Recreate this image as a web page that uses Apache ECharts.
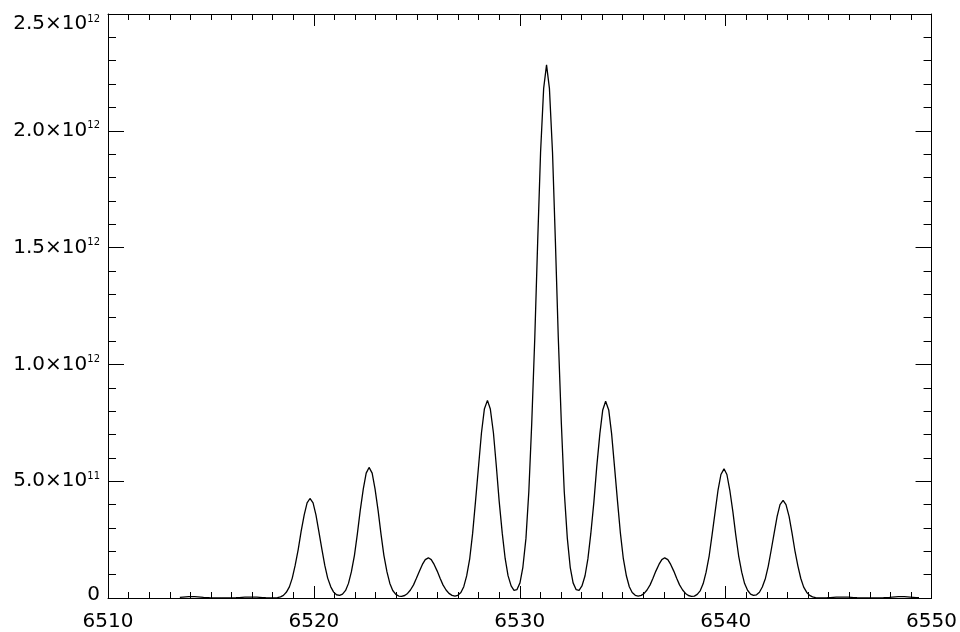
<!DOCTYPE html>
<html>
<head>
<meta charset="utf-8">
<script src="https://cdn.jsdelivr.net/npm/echarts@6/dist/echarts.min.js"></script>
<style>
  html, body { margin: 0; padding: 0; background: #fff; }
  #chart { width: 960px; height: 632px; }
</style>
</head>
<body>
<div id="chart"></div>
<script>
// Wavelength samples (x)
const wavelength = [
  6513.49, 6513.64, 6513.78, 6513.92,
  6514.07, 6514.21, 6514.36, 6514.50, 6514.64, 6514.79, 6514.93, 6515.07, 6515.22, 6515.36,
  6515.50, 6515.65, 6515.79, 6515.94, 6516.08, 6516.22, 6516.37, 6516.51, 6516.65, 6516.80,
  6516.94, 6517.08, 6517.23, 6517.37, 6517.51, 6517.66, 6517.80, 6517.95, 6518.09, 6518.23,
  6518.38, 6518.52, 6518.66, 6518.81, 6518.95, 6519.09, 6519.24, 6519.38, 6519.53, 6519.67,
  6519.81, 6519.96, 6520.10, 6520.24, 6520.39, 6520.53, 6520.67, 6520.82, 6520.96, 6521.10,
  6521.25, 6521.39, 6521.54, 6521.68, 6521.82, 6521.97, 6522.11, 6522.25, 6522.40, 6522.54,
  6522.68, 6522.83, 6522.97, 6523.12, 6523.26, 6523.40, 6523.55, 6523.69, 6523.83, 6523.98,
  6524.12, 6524.26, 6524.41, 6524.55, 6524.69, 6524.84, 6524.98, 6525.13, 6525.27, 6525.41,
  6525.56, 6525.70, 6525.84, 6525.99, 6526.13, 6526.27, 6526.42, 6526.56, 6526.71, 6526.85,
  6526.99, 6527.14, 6527.28, 6527.42, 6527.57, 6527.71, 6527.85, 6528.00, 6528.14, 6528.28,
  6528.43, 6528.57, 6528.72, 6528.86, 6529.00, 6529.15, 6529.29, 6529.43, 6529.58, 6529.72,
  6529.86, 6530.01, 6530.15, 6530.30, 6530.44, 6530.58, 6530.73, 6530.87, 6531.01, 6531.16,
  6531.30, 6531.44, 6531.59, 6531.73, 6531.87, 6532.02, 6532.16, 6532.31, 6532.45, 6532.59,
  6532.74, 6532.88, 6533.02, 6533.17, 6533.31, 6533.45, 6533.60, 6533.74, 6533.89, 6534.03,
  6534.17, 6534.32, 6534.46, 6534.60, 6534.75, 6534.89, 6535.03, 6535.18, 6535.32, 6535.46,
  6535.61, 6535.75, 6535.90, 6536.04, 6536.18, 6536.33, 6536.47, 6536.61, 6536.76, 6536.90,
  6537.04, 6537.19, 6537.33, 6537.48, 6537.62, 6537.76, 6537.91, 6538.05, 6538.19, 6538.34,
  6538.48, 6538.62, 6538.77, 6538.91, 6539.05, 6539.20, 6539.34, 6539.49, 6539.63, 6539.77,
  6539.92, 6540.06, 6540.20, 6540.35, 6540.49, 6540.63, 6540.78, 6540.92, 6541.07, 6541.21,
  6541.35, 6541.50, 6541.64, 6541.78, 6541.93, 6542.07, 6542.21, 6542.36, 6542.50, 6542.64,
  6542.79, 6542.93, 6543.08, 6543.22, 6543.36, 6543.51, 6543.65, 6543.79, 6543.94, 6544.08,
  6544.22, 6544.37, 6544.51, 6544.66, 6544.80, 6544.94, 6545.09, 6545.23, 6545.37, 6545.52,
  6545.66, 6545.80, 6545.95, 6546.09, 6546.23, 6546.38, 6546.52, 6546.67, 6546.81, 6546.95,
  6547.10, 6547.24, 6547.38, 6547.53, 6547.67, 6547.81, 6547.96, 6548.10, 6548.25, 6548.39,
  6548.53, 6548.68, 6548.82, 6548.96, 6549.11, 6549.25, 6549.39
];

// Flux values (y)
const flux = [
  2.93e9, 4.01e9, 5.02e9, 5.74e9,
  6.0e9, 5.74e9, 5.02e9, 4.01e9, 2.93e9, 1.96e9, 1.20e9, 0.67e9, 0.35e9, 0.18e9,
  0.12e9, 0.14e9, 0.24e9, 0.45e9, 0.80e9, 1.31e9, 1.96e9, 2.68e9, 3.34e9, 3.82e9,
  4.0e9, 3.82e9, 3.34e9, 2.68e9, 1.96e9, 1.31e9, 0.87e9, 0.67e9, 0.91e9, 2.01e9,
  4.90e9, 11.4e9, 24.3e9, 47.5e9, 85.1e9, 139.3e9, 208.3e9, 285.0e9, 356.1e9, 407.3e9,
  426e9, 407.3e9, 356.1e9, 285.0e9, 208.3e9, 139.3e9, 85.2e9, 47.8e9, 25.2e9, 13.9e9,
  11.2e9, 16.8e9, 32.6e9, 62.6e9, 111.7e9, 182.8e9, 273.4e9, 374.0e9, 467.3e9, 534.4e9,
  559e9, 534.4e9, 467.3e9, 374.0e9, 273.4e9, 182.8e9, 111.6e9, 62.5e9, 32.2e9, 15.7e9,
  8.33e9, 7.08e9, 10.7e9, 19.5e9, 34.4e9, 56.2e9, 84.1e9, 115.1e9, 143.8e9, 164.4e9,
  172e9, 164.4e9, 143.8e9, 115.1e9, 84.1e9, 56.2e9, 34.4e9, 19.6e9, 11.2e9, 8.35e9,
  11.6e9, 23.4e9, 48.5e9, 94.5e9, 168.9e9, 276.6e9, 413.7e9, 566.0e9, 707.3e9, 808.8e9,
  846e9, 808.8e9, 707.3e9, 566.0e9, 413.7e9, 276.6e9, 169.3e9, 95.6e9, 51.8e9, 32.8e9,
  35.6e9, 64.7e9, 131.5e9, 255.1e9, 455.8e9, 746.2e9, 1115.9e9, 1526.7e9, 1907.8e9, 2181.6e9,
  2282e9, 2181.6e9, 1907.8e9, 1526.7e9, 1115.9e9, 746.2e9, 455.8e9, 255.1e9, 131.4e9, 64.7e9,
  35.6e9, 32.7e9, 51.6e9, 95.2e9, 168.5e9, 275.3e9, 411.7e9, 563.3e9, 703.9e9, 805.0e9,
  842e9, 805.0e9, 703.9e9, 563.3e9, 411.7e9, 275.3e9, 168.1e9, 94.1e9, 48.3e9, 23.3e9,
  11.6e9, 8.34e9, 11.1e9, 19.6e9, 34.4e9, 56.2e9, 84.1e9, 115.1e9, 143.8e9, 164.4e9,
  172e9, 164.4e9, 143.8e9, 115.1e9, 84.1e9, 56.2e9, 34.4e9, 19.5e9, 10.7e9, 7.05e9,
  8.26e9, 15.6e9, 31.8e9, 61.8e9, 110.4e9, 180.8e9, 270.4e9, 370.0e9, 462.3e9, 528.7e9,
  553e9, 528.7e9, 462.3e9, 370.0e9, 270.4e9, 180.8e9, 110.5e9, 61.9e9, 32.2e9, 16.7e9,
  11.1e9, 13.7e9, 24.7e9, 46.9e9, 83.6e9, 136.7e9, 204.4e9, 279.6e9, 349.4e9, 399.6e9,
  418e9, 399.6e9, 349.4e9, 279.6e9, 204.4e9, 136.7e9, 83.5e9, 46.6e9, 23.8e9, 11.2e9,
  4.81e9, 1.97e9, 0.89e9, 0.67e9, 0.86e9, 1.31e9, 1.96e9, 2.68e9, 3.34e9, 3.82e9,
  4.0e9, 3.82e9, 3.34e9, 2.68e9, 1.96e9, 1.31e9, 0.80e9, 0.45e9, 0.24e9, 0.14e9,
  0.12e9, 0.18e9, 0.35e9, 0.67e9, 1.20e9, 1.96e9, 2.93e9, 4.01e9, 5.02e9, 5.74e9,
  6.0e9, 5.74e9, 5.02e9, 4.01e9, 2.93e9, 1.96e9, 1.20e9
];

// Tick labels
const xTickLabels = ['6510', '6520', '6530', '6540', '6550'];
const yTickMantissa = ['0', '5.0', '1.0', '1.5', '2.0', '2.5'];
const yTickExponent = ['', '11', '12', '12', '12', '12'];

const X_MIN = 6510, X_MAX = 6550, X_STEP = 10;
const Y_MIN = 0, Y_MAX = 2.5e12, Y_STEP = 5e11;

const FONT = 'DejaVu Sans';
const chart = echarts.init(document.getElementById('chart'), null, { renderer: 'canvas' });

const lineStyle = { color: '#000', width: 1 };

function xAxisCfg(pos, showLabel) {
  return {
    type: 'value', position: pos, min: X_MIN, max: X_MAX, interval: X_STEP,
    axisLine: { show: true, onZero: false, lineStyle: lineStyle },
    axisTick: { show: true, inside: true, length: 12, lineStyle: lineStyle },
    minorTick: { show: true, splitNumber: 10, length: 6, lineStyle: lineStyle },
    splitLine: { show: false },
    axisLabel: {
      show: showLabel, margin: 14, color: '#000', fontFamily: FONT, fontSize: 20,
      formatter: function (v) { return xTickLabels[Math.round((v - X_MIN) / X_STEP)]; }
    }
  };
}

function yAxisCfg(pos, showLabel) {
  return {
    type: 'value', position: pos, min: Y_MIN, max: Y_MAX, interval: Y_STEP,
    axisLine: { show: true, onZero: false, lineStyle: lineStyle },
    axisTick: { show: true, inside: true, length: 16, lineStyle: lineStyle },
    minorTick: { show: true, splitNumber: 5, length: 8, lineStyle: lineStyle },
    splitLine: { show: false },
    axisLabel: {
      show: showLabel, margin: 8, color: '#000', fontFamily: FONT, fontSize: 20,
      verticalAlignMaxLabel: 'top',
      verticalAlignMinLabel: 'bottom',
      formatter: function (v) {
        const i = Math.round((v - Y_MIN) / Y_STEP);
        if (!yTickExponent[i]) return '{z|' + yTickMantissa[i] + '}';
        return '{m|' + yTickMantissa[i] + '×10}{s|' + yTickExponent[i] + '}';
      },
      rich: {
        m: { fontFamily: FONT, fontSize: 20, color: '#000' },
        z: { fontFamily: FONT, fontSize: 20, color: '#000', lineHeight: 6 },
        s: { fontFamily: FONT, fontSize: 10, color: '#000', verticalAlign: 'top' }
      }
    }
  };
}

const option = {
  backgroundColor: '#fff',
  animation: false,
  grid: { left: 108, right: 28, top: 14, bottom: 34, containLabel: false },
  xAxis: [xAxisCfg('bottom', true), xAxisCfg('top', false)],
  yAxis: [yAxisCfg('left', true), yAxisCfg('right', false)],
  series: [{
    type: 'line',
    xAxisIndex: 0, yAxisIndex: 0,
    data: wavelength.map(function (x, i) { return [x, flux[i]]; }),
    showSymbol: false,
    smooth: false,
    lineStyle: { color: '#000', width: 1.3 },
    clip: true
  }]
};
chart.setOption(option);
</script>
</body>
</html>
